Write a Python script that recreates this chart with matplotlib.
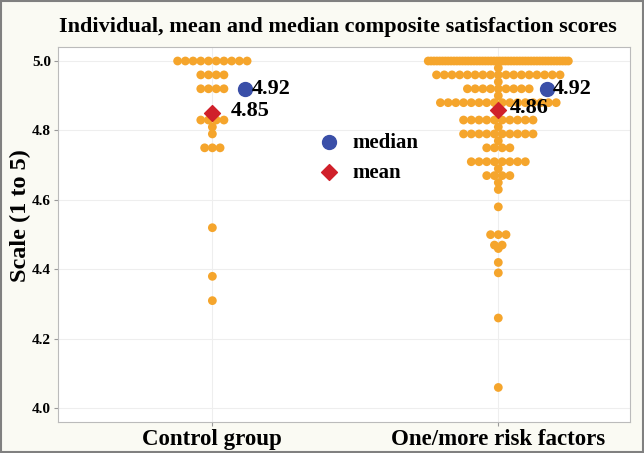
import numpy as np
import matplotlib.pyplot as plt

# scores: value -> how many people
control_vals = [5.00, 4.96, 4.92, 4.83, 4.81, 4.79, 4.75, 4.52, 4.38, 4.31]
control_cnts = [10, 4, 4, 4, 1, 1, 3, 1, 1, 1]

risk_vals = [5.00, 4.98, 4.96, 4.94, 4.92, 4.90, 4.88, 4.83, 4.81, 4.79, 4.77, 4.75,
             4.71, 4.69, 4.67, 4.65, 4.63, 4.58, 4.50, 4.47, 4.46, 4.42, 4.39, 4.26, 4.06]
risk_cnts = [50, 1, 17, 1, 9, 1, 16, 10, 1, 10, 1, 4,
             8, 1, 4, 1, 1, 1, 3, 2, 1, 1, 1, 1, 1]

groups = ['Control group', 'One/more risk factors']
medians = [4.92, 4.92]
means = [4.85, 4.86]

orange = '#F5A52C'
blue = '#3A4FA8'
red = '#D0202A'

plt.rcParams['font.family'] = ['Liberation Serif', 'DejaVu Serif']
plt.rcParams['font.weight'] = 'bold'

fig = plt.figure(figsize=(6.44, 4.53), dpi=100, facecolor='#FAFAF3')
ax = fig.add_axes([0.09, 0.068, 0.888, 0.828])
ax.set_facecolor('white')

step = 0.027     # spacing between dots in a row
max_w = 0.50     # widest a row may get

for i, (vals, cnts) in enumerate([(control_vals, control_cnts), (risk_vals, risk_cnts)]):
    xs, ys = [], []
    for v, n in zip(vals, cnts):
        s = min(step, max_w / n)
        off = (np.arange(n) - (n - 1) / 2) * s
        xs.extend(i + 1 + off)
        ys.extend([v] * n)
    ax.scatter(xs, ys, s=40, color=orange, edgecolors='none', zorder=3)

# mean and median markers
med_off = [0.115, 0.17]
for i in range(2):
    x = i + 1
    ax.scatter(x + med_off[i], medians[i], s=100, color=blue, zorder=4)
    ax.text(x + med_off[i] + 0.022, medians[i], '%.2f' % medians[i], fontsize=16,
            fontweight='bold', va='center', ha='left', zorder=5)
    ax.scatter(x, means[i], s=65, marker='D', color=red, zorder=4)
    ax.text(x + 0.065 - 0.025 * i, means[i] + 0.005, '%.2f' % means[i], fontsize=16,
            fontweight='bold', va='center', ha='left', zorder=5)

ax.scatter([], [], s=100, color=blue, label='median')
ax.scatter([], [], s=65, marker='D', color=red, label='mean')
ax.legend(loc='upper left', bbox_to_anchor=(0.42, 0.80), frameon=False,
          prop={'size': 15, 'weight': 'bold'}, handletextpad=0.1, labelspacing=0.5,
          borderpad=0)

ax.set_xlim(0.46, 2.46)
ax.set_ylim(3.96, 5.04)
ax.set_xticks([1, 2])
ax.set_xticklabels(groups, fontsize=16.5, fontweight='bold')
ax.set_yticks([4.0, 4.2, 4.4, 4.6, 4.8, 5.0])
ax.set_yticklabels(['4.0', '4.2', '4.4', '4.6', '4.8', '5.0'], fontsize=11, fontweight='bold')
ax.set_ylabel('Scale (1 to 5)', fontsize=17.5, fontweight='bold')
ax.yaxis.set_label_coords(-0.047, 0.55)
ax.grid(True, color='#EEEEEE', linewidth=0.8, zorder=0)
ax.tick_params(length=3, color='#999999', pad=2)
for sp in ax.spines.values():
    sp.set_color('#BBBBBB')

fig.text(0.525, 0.94, 'Individual, mean and median composite satisfaction scores',
         ha='center', va='center', fontsize=16, fontweight='bold')

# grey frame around the whole picture
fig.patches.append(plt.Rectangle((0.002, 0.002), 0.996, 0.996, transform=fig.transFigure,
                                 fill=False, edgecolor='#808080', linewidth=1.5))

fig.savefig('out.png', dpi=100, facecolor=fig.get_facecolor())
